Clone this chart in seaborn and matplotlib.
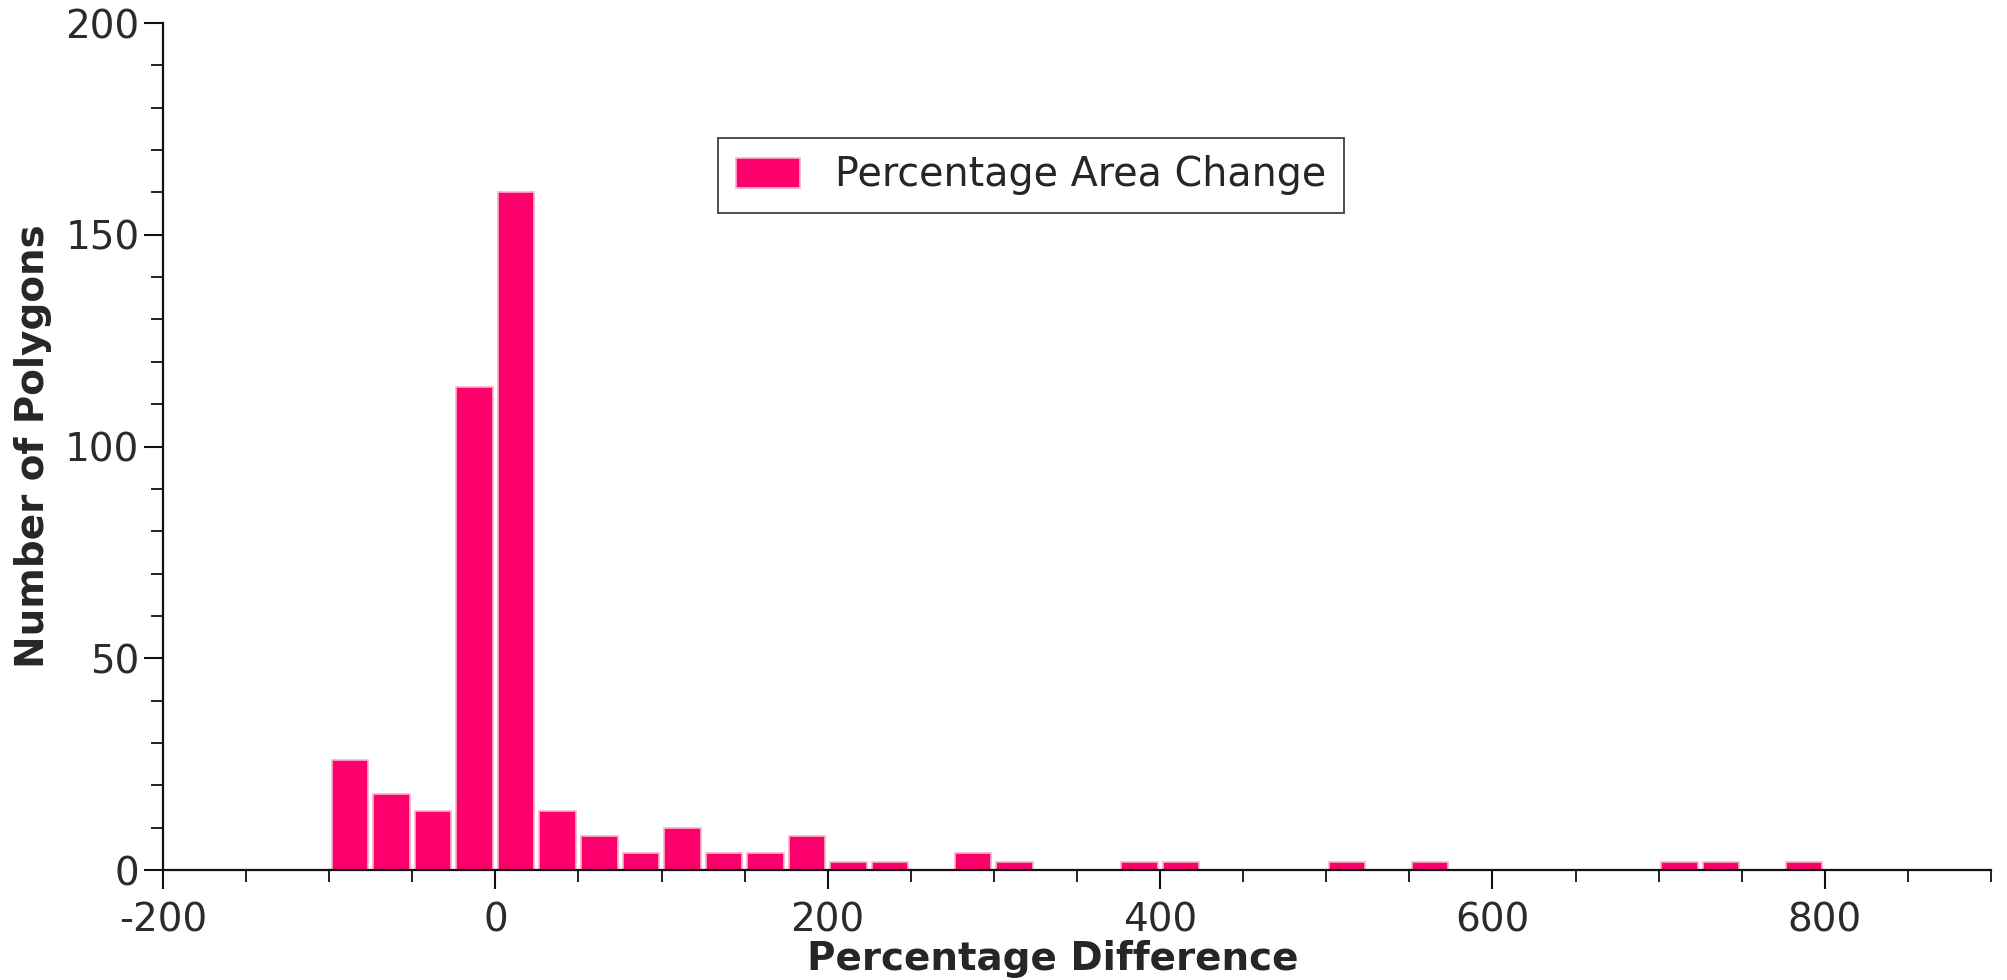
import numpy as np
import pandas as pd
import seaborn as sns
import matplotlib.pyplot as plt
from matplotlib.ticker import MultipleLocator

# histogram bins (lower edges, width 25) and counts
bin_starts = [-100, -75, -50, -25, 0, 25, 50, 75, 100, 125, 150, 175,
              200, 225, 250, 275, 300, 325, 350, 375, 400, 425, 450, 475,
              500, 525, 550, 575, 600, 625, 650, 675, 700, 725, 750, 775]
counts = [26, 18, 14, 114, 160, 14, 8, 4, 10, 4, 4, 8,
          2, 2, 0, 4, 2, 0, 0, 2, 2, 0, 0, 0,
          2, 0, 2, 0, 0, 0, 0, 0, 2, 2, 0, 2]
bin_width = 25
series_label = "Percentage Area Change"

edges = bin_starts + [bin_starts[-1] + bin_width]
df = pd.DataFrame({"pct": [b + bin_width / 2 for b in bin_starts], "n": counts})

sns.set_style("ticks")
plt.rcParams['font.family'] = ['DejaVu Sans']
plt.rcParams['axes.unicode_minus'] = False

fig = plt.figure(figsize=(20.08, 9.8), dpi=100)
ax = fig.add_axes([0.0812, 0.1122, 0.9103, 0.8643])

sns.histplot(data=df, x="pct", weights="n", bins=edges, shrink=0.88,
             color="#fe006b", alpha=1, edgecolor="#f6b3c9", linewidth=1.2,
             label=series_label, ax=ax)

ax.set_xlim(-200, 900)
ax.set_ylim(0, 200)
ax.xaxis.set_major_locator(MultipleLocator(200))
ax.xaxis.set_minor_locator(MultipleLocator(50))
ax.yaxis.set_major_locator(MultipleLocator(50))
ax.yaxis.set_minor_locator(MultipleLocator(10))

for s in ["top", "right"]:
    ax.spines[s].set_visible(False)
for s in ["left", "bottom"]:
    ax.spines[s].set_linewidth(1.6)
    ax.spines[s].set_color("#111111")

ax.tick_params(axis="both", which="major", length=14, width=1.5,
               labelsize=28, colors="#111111", labelcolor="#2b2b2b", pad=3)
ax.tick_params(axis="x", which="major", pad=9)
ax.tick_params(axis="both", which="minor", length=8.5, width=1.3, colors="#111111")

ax.set_xlabel("Percentage Difference", fontsize=28, fontweight="bold", labelpad=0)
ax.xaxis.set_label_coords(0.487, -0.083)
ax.set_ylabel("Number of Polygons", fontsize=28, fontweight="bold")
ax.yaxis.set_label_coords(-0.061, 0.5)

leg = ax.legend(loc="center", bbox_to_anchor=(0.475, 0.82), fontsize=28.5,
                frameon=True, fancybox=False, borderpad=0.45,
                handlelength=1.6, handleheight=0.8, handletextpad=0.9)
leg.get_frame().set_edgecolor("#111111")
leg.get_frame().set_linewidth(1.3)

fig.savefig("out.png", dpi=100)
